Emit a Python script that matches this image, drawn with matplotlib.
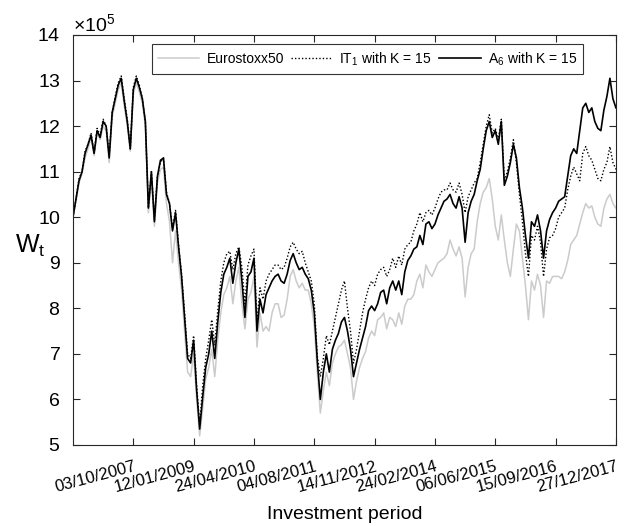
import numpy as np
import matplotlib.pyplot as plt
from matplotlib.ticker import ScalarFormatter
from matplotlib.transforms import ScaledTranslation

plt.rcParams['font.family'] = ['Liberation Sans', 'DejaVu Sans']
plt.rcParams['mathtext.fontset'] = 'custom'
plt.rcParams['mathtext.rm'] = 'Liberation Sans'
plt.rcParams['mathtext.it'] = 'Liberation Sans'

# wealth paths (units of 1e5), one value every ~23 calendar days
eurostoxx = [
    10.0, 10.35, 10.75, 10.95, 11.3, 11.5, 11.75, 11.35, 11.85, 11.7,
    12.0, 11.9, 11.2, 12.2, 12.5, 12.8, 12.95, 12.45, 12.0, 11.45,
    12.7, 12.95, 12.75, 12.5, 12.0, 10.1, 10.85, 9.8, 10.75, 11.05,
    11.1, 10.3, 9.9, 9.0, 9.7, 9.0, 8.4, 7.5, 6.6, 6.5,
    7.0, 6.0, 5.2, 5.8, 6.45, 6.7, 7.1, 6.5, 7.3, 7.9,
    8.3, 8.45, 8.7, 8.1, 8.6, 8.9, 8.1, 7.55, 8.2, 8.35,
    8.7, 7.15, 7.9, 7.5, 7.6, 7.5, 7.9, 8.1, 8.1, 7.8,
    7.85, 8.2, 8.7, 8.85, 8.6, 8.45, 8.55, 8.4, 8.4, 8.1,
    7.6, 6.6, 5.7, 6.2, 6.6, 6.3, 6.8, 7.0, 7.15, 7.2,
    7.3, 7.0, 6.7, 6.0, 6.4, 6.7, 6.9, 7.05, 7.35, 7.5,
    7.4, 7.75, 7.8, 7.9, 7.55, 7.8, 7.75, 7.6, 7.9, 7.65,
    8.05, 8.2, 8.2, 8.3, 8.6, 8.75, 8.45, 8.95, 8.8, 8.7,
    8.85, 9.0, 9.05, 9.1, 9.2, 9.5, 9.3, 9.15, 9.35, 9.1,
    8.25, 8.9, 9.2, 9.3, 9.9, 10.3, 10.55, 10.65, 10.85, 10.4,
    9.8, 9.5, 10.05, 9.5, 9.0, 8.7, 9.3, 9.85, 9.7, 9.1,
    8.5, 7.75, 8.6, 8.4, 8.75, 8.5, 7.8, 8.6, 8.55, 8.7,
    8.7, 8.7, 8.65, 8.8, 9.05, 9.4, 9.5, 9.6, 9.85, 10.1,
    10.3, 10.2, 10.25, 10.0, 9.85, 9.8, 10.2, 10.4, 10.5, 10.3,
    10.2,
]

it1_k15 = [
    10.0, 10.4, 10.85, 11.0, 11.45, 11.6, 11.85, 11.4, 11.95, 11.8,
    12.15, 12.0, 11.35, 12.3, 12.65, 12.95, 13.1, 12.6, 12.15, 11.5,
    12.85, 13.1, 12.9, 12.6, 12.1, 10.2, 11.0, 9.95, 10.9, 11.2,
    11.3, 10.55, 10.3, 9.75, 10.15, 9.4, 8.75, 7.9, 7.0, 6.9,
    7.4, 6.3, 5.45, 6.3, 6.9, 7.3, 7.75, 7.2, 7.95, 8.6,
    9.0, 9.2, 9.25, 8.85, 9.2, 9.35, 8.9, 8.1, 8.95, 9.15,
    9.3, 7.7, 8.45, 8.2, 8.6, 8.75, 8.85, 8.95, 8.95, 8.85,
    8.9, 9.1, 9.35, 9.45, 9.3, 9.2, 9.25, 9.0, 8.8, 8.6,
    8.1, 6.95, 6.5, 6.9, 7.4, 7.2, 7.5, 7.8, 8.1, 8.4,
    8.6, 8.0, 7.5, 6.8, 7.1, 7.5, 7.9, 8.2, 8.45, 8.6,
    8.5, 8.75, 8.85, 8.9, 8.7, 8.85, 9.1, 8.9, 9.15, 8.95,
    9.3, 9.4, 9.45, 9.7, 9.85, 10.1, 9.9, 10.1, 10.15, 10.05,
    10.2, 10.4, 10.55, 10.6, 10.6, 10.75, 10.6, 10.55, 10.75, 10.5,
    10.1, 10.45, 10.6, 10.75, 10.85, 11.2, 11.6, 12.0, 12.25, 11.85,
    11.95, 11.7, 12.15, 10.8, 11.0, 11.3, 11.7, 11.2, 10.5, 9.9,
    9.2, 8.7, 9.6, 9.5, 9.8, 9.45, 8.7, 9.3, 9.55, 9.6,
    9.75, 10.0, 10.1, 10.2, 10.6, 10.9, 11.1, 10.95, 10.8, 11.4,
    11.55, 11.35, 11.25, 11.05, 10.85, 10.8, 11.05, 11.2, 11.55, 11.2,
    11.05,
]

a6_k15 = [
    10.0, 10.4, 10.8, 11.0, 11.4, 11.6, 11.8, 11.4, 11.9, 11.75,
    12.1, 12.0, 11.3, 12.3, 12.6, 12.9, 13.05, 12.55, 12.1, 11.5,
    12.8, 13.05, 12.85, 12.6, 12.1, 10.2, 11.0, 9.9, 10.9, 11.25,
    11.3, 10.5, 10.3, 9.7, 10.1, 9.35, 8.7, 7.8, 6.9, 6.8,
    7.3, 6.2, 5.35, 6.05, 6.7, 7.0, 7.5, 6.9, 7.7, 8.35,
    8.75, 8.9, 9.1, 8.55, 9.0, 9.3, 8.6, 7.8, 8.7, 8.8,
    9.1, 7.5, 8.2, 7.9, 8.3, 8.45, 8.6, 8.7, 8.75, 8.6,
    8.55, 8.75, 9.05, 9.2, 9.0, 8.85, 8.9, 8.75, 8.65, 8.4,
    7.9, 6.85, 6.0, 6.6, 7.0, 6.6, 7.1, 7.3, 7.45, 7.7,
    7.8, 7.5, 7.1, 6.5, 6.8, 7.1, 7.35, 7.6, 7.95, 8.05,
    7.95, 8.1, 8.35, 8.4, 8.1, 8.45, 8.6, 8.4, 8.6, 8.3,
    8.8, 9.05, 9.15, 9.3, 9.35, 9.6, 9.4, 9.85, 9.9, 9.75,
    9.85, 10.05, 10.2, 10.35, 10.4, 10.5, 10.3, 10.2, 10.45, 10.2,
    9.45, 10.1, 10.35, 10.5, 10.8, 11.05, 11.5, 11.9, 12.1, 11.75,
    11.9, 11.6, 12.1, 10.7, 10.9, 11.2, 11.6, 11.3, 10.65, 10.2,
    9.6, 9.1, 9.9, 9.8, 10.05, 9.7, 9.1, 9.7, 9.95, 10.1,
    10.2, 10.35, 10.4, 10.45, 10.9, 11.35, 11.5, 11.4, 11.9, 12.4,
    12.5, 12.3, 12.4, 12.1, 11.95, 11.9, 12.35, 12.65, 13.05, 12.6,
    12.4,
]

date_labels = ["03/10/2007", "12/01/2009", "24/04/2010", "04/08/2011",
               "14/11/2012", "24/02/2014", "06/06/2015", "15/09/2016",
               "27/12/2017"]

obs = np.arange(len(a6_k15))
tick_pos = obs[20::20]

fig = plt.figure(figsize=(6.28, 5.26), dpi=100)
ax = fig.add_axes([0.1162, 0.154, 0.8646, 0.7795])

ax.plot(obs, np.array(eurostoxx) * 1e5, color="#cbcbcb", lw=1.1,
        label="Eurostoxx50")
ax.plot(obs, np.array(it1_k15) * 1e5, color="black", lw=1.0, ls=(0, (1, 1.5)),
        label="IT$_1$ with K = 15")
ax.plot(obs, np.array(a6_k15) * 1e5, color="black", lw=1.2,
        label="A$_6$ with K = 15")

ax.set_xlim(0, obs[-1])
ax.set_ylim(5e5, 14e5)
ax.set_yticks(np.arange(5, 15) * 1e5)

fmt = ScalarFormatter(useMathText=True)
fmt.set_powerlimits((5, 5))
ax.yaxis.set_major_formatter(fmt)
ax.yaxis.get_offset_text().set_fontsize(14)

ax.set_xticks(tick_pos)
ax.set_xticklabels(date_labels, rotation=15, ha="right", va="top",
                   rotation_mode="anchor", fontsize=12)
# nudge the rotated dates a few pixels right of their ticks
shift = ScaledTranslation(8 / 100, 0, fig.dpi_scale_trans)
for lbl in ax.get_xticklabels():
    lbl.set_transform(lbl.get_transform() + shift)

ax.tick_params(axis="both", direction="in", top=True, right=True,
               length=5, width=0.8, colors="#262626", labelcolor="black")
ax.tick_params(axis="x", pad=10)
ax.tick_params(axis="y", labelsize=14, pad=9)
for s in ax.spines.values():
    s.set_color("#262626")
    s.set_linewidth(0.8)

ax.set_xlabel("Investment period", fontsize=14, labelpad=8)
ax.set_ylabel("W$_t$", fontsize=18, rotation=0, ha="right", va="center")
ax.yaxis.set_label_coords(-0.05, 0.485)

leg = ax.legend(loc="upper right", ncol=3, fontsize=10, frameon=True,
                fancybox=False, edgecolor="black", handlelength=3.0,
                columnspacing=0.5, handletextpad=0.5,
                bbox_to_anchor=(0.94, 0.978), borderpad=0.45,
                borderaxespad=0)
leg.get_frame().set_linewidth(0.8)

fig.savefig("out.png", dpi=100)
